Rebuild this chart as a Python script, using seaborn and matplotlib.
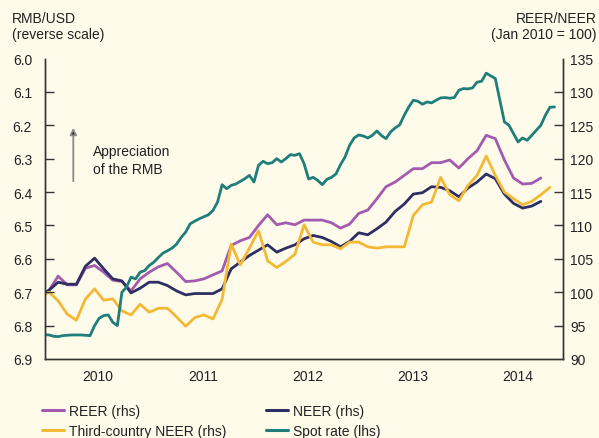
import matplotlib.pyplot as plt
import seaborn as sns
import pandas as pd
import numpy as np
from matplotlib.lines import Line2D

# Monthly effective exchange rates, Dec 2009 onwards (Jan 2010 = 100)
reer = [99.4, 100.3, 102.4, 101.1, 101.1, 103.6, 104.0, 103.0, 101.8, 101.6, 100.2,
        102.0, 103.0, 103.8, 104.3, 103.0, 101.6, 101.7, 102.0, 102.6, 103.2,
        107.0, 107.7, 108.2, 110.0, 111.6, 110.1, 110.4, 110.1, 110.8, 110.8,
        110.8, 110.4, 109.6, 110.2, 111.8, 112.3, 114.0, 115.8, 116.5, 117.5,
        118.5, 118.5, 119.4, 119.4, 119.8, 118.6, 120.0, 121.2, 123.5, 123.0,
        119.8, 117.1, 116.2, 116.3, 117.1]
neer = [99.3, 100.3, 101.5, 101.2, 101.2, 103.9, 105.1, 103.5, 102.0, 101.7, 99.9,
        100.6, 101.5, 101.5, 101.0, 100.2, 99.6, 99.8, 99.8, 99.8, 100.5,
        103.5, 104.5, 105.5, 106.3, 107.1, 106.0, 106.6, 107.1, 108.0, 108.5,
        108.2, 107.6, 106.8, 107.6, 108.9, 108.6, 109.5, 110.5, 112.1, 113.2,
        114.7, 114.9, 115.8, 115.7, 115.2, 114.3, 115.6, 116.5, 117.7, 117.0,
        114.7, 113.3, 112.6, 112.9, 113.6]
third = [99.3, 100.0, 98.7, 96.7, 95.8, 99.0, 100.5, 98.8, 99.0, 97.2, 96.6,
         98.2, 97.0, 97.6, 97.6, 96.3, 94.9, 96.2, 96.6, 96.0, 98.9,
         107.2, 104.1, 106.6, 109.2, 104.7, 103.7, 104.6, 105.7, 110.1, 107.5,
         107.1, 107.1, 106.5, 107.5, 107.5, 106.8, 106.6, 106.8, 106.8, 106.8,
         111.5, 113.1, 113.5, 117.2, 114.6, 113.7, 116.0, 117.5, 120.4, 117.5,
         115.0, 114.0, 113.1, 113.6, 114.6, 115.7]

# RMB/USD spot rate, half-monthly from Jan 2010
spot = [6.827, 6.828, 6.832, 6.833, 6.830, 6.829, 6.828, 6.828, 6.828, 6.829,
        6.830, 6.800, 6.778, 6.770, 6.768, 6.790, 6.800, 6.700, 6.685, 6.655,
        6.660, 6.640, 6.635, 6.620, 6.610, 6.596, 6.583, 6.576, 6.568, 6.556,
        6.536, 6.520, 6.495, 6.487, 6.480, 6.474, 6.468, 6.455, 6.430, 6.378,
        6.390, 6.380, 6.376, 6.368, 6.360, 6.350, 6.370, 6.320, 6.308, 6.315,
        6.312, 6.300, 6.310, 6.300, 6.288, 6.290, 6.285, 6.315, 6.361, 6.356,
        6.365, 6.378, 6.362, 6.356, 6.346, 6.318, 6.295, 6.260, 6.238, 6.229,
        6.232, 6.238, 6.230, 6.217, 6.231, 6.240, 6.220, 6.208, 6.199, 6.170,
        6.145, 6.125, 6.128, 6.137, 6.130, 6.133, 6.125, 6.118, 6.117, 6.119,
        6.117, 6.095, 6.090, 6.091, 6.088, 6.071, 6.068, 6.044, 6.052, 6.060,
        6.125, 6.190, 6.200, 6.225, 6.250, 6.238, 6.245, 6.230, 6.215, 6.200,
        6.170, 6.146, 6.145]

years = ['2010', '2011', '2012', '2013', '2014']
year_label_pos = [5.87, 17.37, 28.92, 40.45, 51.98]  # months since Jan 2010

bg = '#FEFBEB'
ink = '#222222'
c_reer, c_neer, c_third, c_spot = '#A35BB0', '#2D2F62', '#F3B934', '#1F7E7A'

sns.set_style('white')
plt.rcParams['font.family'] = ['Liberation Sans', 'DejaVu Sans']
plt.rcParams['font.size'] = 10
plt.rcParams['text.color'] = ink

monthly = pd.DataFrame({'REER': reer, 'NEER': neer})
monthly['x'] = np.arange(len(monthly)) - 0.5
third_df = pd.DataFrame({'x': np.arange(len(third)) - 0.5, 'Third': third})
spot_df = pd.DataFrame({'x': np.arange(len(spot)) * 0.5, 'Spot': spot})

fig = plt.figure(figsize=(5.99, 4.39), dpi=100, facecolor=bg)
ax = fig.add_axes([44.5 / 599, 79 / 439, 518.2 / 599, 300.5 / 439])
ax2 = ax.twinx()

# right axis: effective exchange rates
sns.lineplot(data=monthly, x='x', y='REER', color=c_reer, lw=2, ax=ax2)
sns.lineplot(data=monthly, x='x', y='NEER', color=c_neer, lw=2, ax=ax2)
sns.lineplot(data=third_df, x='x', y='Third', color=c_third, lw=2, ax=ax2)
# left axis: spot rate (reverse scale)
sns.lineplot(data=spot_df, x='x', y='Spot', color=c_spot, lw=2, ax=ax)

ax.set_zorder(ax2.get_zorder() + 1)
ax.patch.set_visible(False)
ax2.patch.set_facecolor(bg)

ax.set_xlim(0, 56.9)
ax.set_ylim(6.9, 6.0)
ax2.set_ylim(90, 135)

for a in (ax, ax2):
    a.set_xlabel('')
    a.set_ylabel('')
    a.spines['top'].set_visible(False)
    for s in ('left', 'right', 'bottom'):
        a.spines[s].set_color('#333333')
        a.spines[s].set_linewidth(1)

ax.set_yticks(np.arange(6.0, 6.91, 0.1))
ax.set_yticklabels([f'{v:.1f}' for v in np.arange(6.0, 6.91, 0.1)])
ax.tick_params(axis='y', direction='in', length=6.5, width=1, color='#333333',
               pad=9, labelsize=10, labelcolor=ink)
ax2.set_yticks(np.arange(90, 136, 5))
ax2.tick_params(axis='y', direction='in', length=6.3, width=1, color='#333333',
                pad=5.6, labelsize=10, labelcolor=ink)
for a in (ax, ax2):
    t = a.yaxis.get_major_ticks()
    t[0].tick1line.set_visible(False)
    t[0].tick2line.set_visible(False)
    t[-1].tick1line.set_visible(False)
    t[-1].tick2line.set_visible(False)

ax.set_xticks([0, 12, 24, 36, 48])
ax.set_xticks(np.arange(1, 57), minor=True)
ax.set_xticklabels([])
ax.tick_params(axis='x', which='major', direction='in', length=6.5, width=1,
               color='#333333')
ax.tick_params(axis='x', which='minor', direction='in', length=3.6, width=0.8,
               color='#333333')
ax2.tick_params(axis='x', which='both', bottom=False, labelbottom=False)
for pos, lab in zip(year_label_pos, years):
    ax.text(pos, -0.057, lab, transform=ax.get_xaxis_transform(),
            ha='center', va='center', fontsize=10)

# axis titles
fig.text(12 / 599, 1 - 19 / 439, 'RMB/USD', ha='left', va='center', fontsize=10)
fig.text(12 / 599, 1 - 35 / 439, '(reverse scale)', ha='left', va='center', fontsize=10)
fig.text(596.5 / 599, 1 - 19 / 439, 'REER/NEER', ha='right', va='center', fontsize=10)
fig.text(596.5 / 599, 1 - 35 / 439, '(Jan 2010 = 100)', ha='right', va='center', fontsize=10)

# appreciation arrow
fig.add_artist(plt.matplotlib.patches.FancyArrowPatch(
    (73.3 / 599, 1 - 185 / 439), (73.3 / 599, 1 - 126 / 439),
    transform=fig.transFigure, arrowstyle='-|>', mutation_scale=10,
    fc='#222222', ec='#8A8A84', lw=1.3))
fig.text(93 / 599, 1 - 161 / 439, 'Appreciation\nof the RMB', ha='left', va='center',
         fontsize=10, linespacing=1.3)

handles = [Line2D([], [], color=c_reer, lw=2.2),
           Line2D([], [], color=c_third, lw=2.2),
           Line2D([], [], color=c_neer, lw=2.2),
           Line2D([], [], color=c_spot, lw=2.2)]
labels = ['REER (rhs)', 'Third-country NEER (rhs)', 'NEER (rhs)', 'Spot rate (lhs)']
fig.legend(handles, labels, loc='upper left', bbox_to_anchor=(42 / 599, 1 - 405 / 439),
           ncol=2, frameon=False, fontsize=10, handlelength=1.58, handletextpad=0.35,
           columnspacing=2.9, labelspacing=0.4, borderpad=0, borderaxespad=0)

fig.savefig('out.png', dpi=100, facecolor=bg)
